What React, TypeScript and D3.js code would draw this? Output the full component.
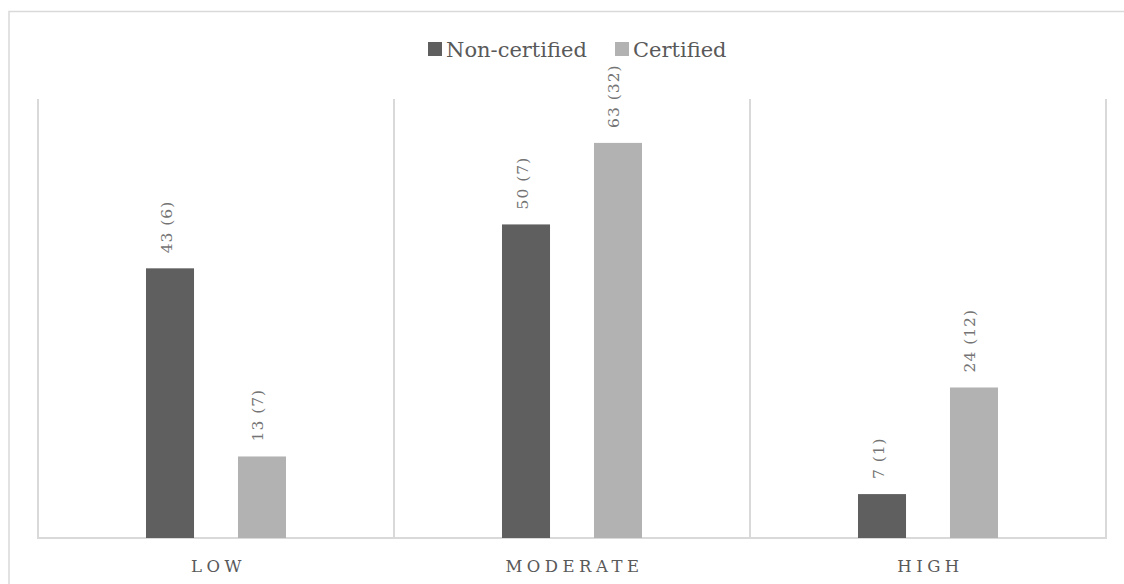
import React from "react";
import * as d3 from "d3";

const categories = ["LOW", "MODERATE", "HIGH"];
const seriesNames = ["Non-certified", "Certified"];
const nonCertified = [43, 50, 7];
const nonCertifiedN = [6, 7, 1];
const certified = [13, 63, 24];
const certifiedN = [7, 32, 12];
const yMax = 70;

const colors = ["#5f5f5f", "#b2b2b2"];
const FONT = "'DejaVu Serif', serif";

export default function App() {
  const W = 1124;
  const H = 584;
  const left = 38, right = 1106, top = 99, bottom = 538;

  const x = d3.scaleBand<string>().domain(categories).range([left, right]).padding(0);
  const xInner = d3
    .scaleBand<string>()
    .domain(seriesNames)
    .range([0, x.bandwidth()])
    .paddingInner(0.478)
    .paddingOuter(1.174);
  const y = d3.scaleLinear().domain([0, yMax]).range([bottom, top]);

  const values = [nonCertified, certified];
  const counts = [nonCertifiedN, certifiedN];

  const gridXs = [left, ...categories.map((c) => (x(c) as number) + x.bandwidth())];

  const legendItems = [
    { name: seriesNames[0], x: 428, color: colors[0] },
    { name: seriesNames[1], x: 615, color: colors[1] },
  ];

  return (
    <svg
      width={W}
      height={H}
      style={{ position: "absolute", left: 0, top: 0, background: "#fff" }}
      fontFamily={FONT}
    >
      <rect x={9} y={11.5} width={1300} height={800} fill="#fff" stroke="#d9d9d9" strokeWidth={1.5} />
      {gridXs.map((gx, i) => (
        <line key={"g" + i} x1={gx} x2={gx} y1={top} y2={bottom} stroke="#d9d9d9" strokeWidth={2} />
      ))}
      <line x1={left - 1} x2={right + 1} y1={bottom} y2={bottom} stroke="#d9d9d9" strokeWidth={2} />
      {categories.map((c, ci) =>
        seriesNames.map((s, si) => {
          const v = values[si][ci];
          const bx = (x(c) as number) + (xInner(s) as number);
          const bw = xInner.bandwidth();
          const cx = bx + bw / 2;
          const ty = y(v) - 15;
          return (
            <g key={c + s}>
              <rect x={bx} y={y(v)} width={bw} height={bottom - y(v)} fill={colors[si]} />
              <text
                transform={`translate(${cx},${ty}) rotate(-90)`}
                dy={1.5}
                fontSize={15.5}
                letterSpacing={1}
                fill="#737373"
                textAnchor="start"
              >
                {`${v} (${counts[si][ci]})`}
              </text>
            </g>
          );
        })
      )}
      {categories.map((c) => (
        <text
          key={"c" + c}
          x={(x(c) as number) + x.bandwidth() / 2 + 2.5}
          y={571.5}
          fontSize={16.5}
          letterSpacing={4.5}
          textAnchor="middle"
          fill="#595959"
        >
          {c}
        </text>
      ))}
      {legendItems.map((it) => (
        <g key={it.name}>
          <rect x={it.x} y={42} width={14} height={14} fill={it.color} />
          <text x={it.x + 18} y={56.5} fontSize={21} fill="#595959">
            {it.name}
          </text>
        </g>
      ))}
    </svg>
  );
}
